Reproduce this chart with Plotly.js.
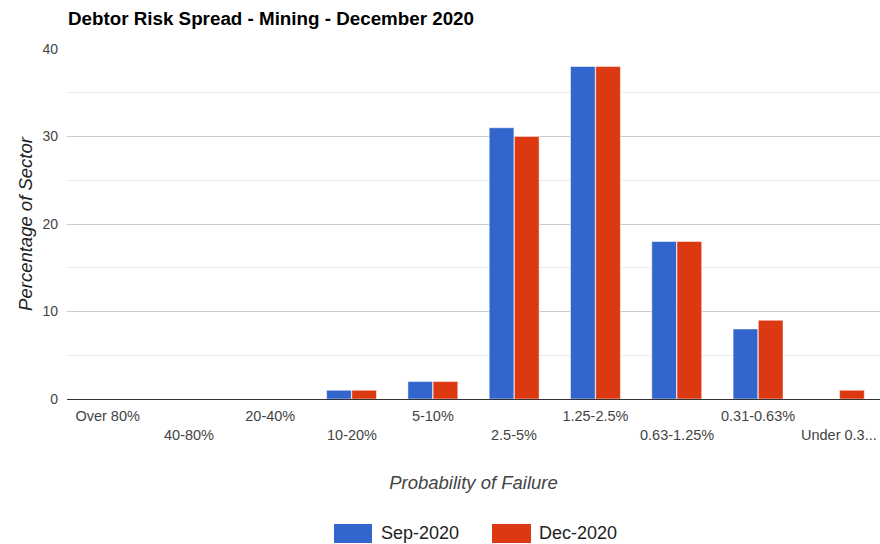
<!DOCTYPE html>
<html>
<head>
<meta charset="utf-8">
<script src="https://cdn.plot.ly/plotly-3.0.1.min.js"></script>
<style>html,body{margin:0;padding:0;background:#fff;}#chart{width:880px;height:544px;}</style>
</head>
<body>
<div id="chart"></div>
<script>
const categories = ["Over 80%", "40-80%", "20-40%", "10-20%", "5-10%", "2.5-5%", "1.25-2.5%", "0.63-1.25%", "0.31-0.63%", "Under 0.3..."];
const sepValues = [0, 0, 0, 1, 2, 31, 38, 18, 8, 0];
const decValues = [0, 0, 0, 1, 2, 30, 38, 18, 9, 1];
const seriesNames = ["Sep-2020", "Dec-2020"];
const seriesColors = ["#3366cc", "#dc3912"];
const yTicks = [0, 10, 20, 30, 40];

const evenCats = categories.filter((c, i) => i % 2 === 0);
const oddCats = categories.filter((c, i) => i % 2 === 1);

const font = "Arial, 'Liberation Sans', sans-serif";

// plot area in pixels (for the hand-made legend only)
const L = 67, R = 880, T = 49, B = 399;
const px = x => (x - L) / (R - L);
const py = y => (B - y) / (B - T);

const traces = [
  {type: "bar", name: seriesNames[0], x: categories, y: sepValues,
   marker: {color: seriesColors[0], line: {color: "#ffffff", width: 0.5}}},
  {type: "bar", name: seriesNames[1], x: categories, y: decValues,
   marker: {color: seriesColors[1], line: {color: "#ffffff", width: 0.5}}}
];

const annotations = oddCats.map(c => ({
  x: c, xref: "x", y: py(435), yref: "paper", yanchor: "middle", xanchor: "center",
  text: c, showarrow: false, font: {family: font, size: 14.5, color: "#444"}
}));

// legend (Google-style wide swatches)
const legendSw = [[334, 372], [492, 531]];
const legendTx = [379, 537];
const shapes = [];
seriesNames.forEach((n, i) => {
  shapes.push({type: "rect", xref: "paper", yref: "paper",
    x0: px(legendSw[i][0]), x1: px(legendSw[i][1]), y0: py(543), y1: py(524),
    fillcolor: seriesColors[i], line: {width: 0}});
  annotations.push({x: px(legendTx[i]), xref: "paper", y: py(533), yref: "paper",
    xanchor: "left", yanchor: "middle", text: n, showarrow: false,
    font: {family: font, size: 18, color: "#222"}});
});

const layout = {
  width: 880, height: 544,
  margin: {l: L, r: 880 - R, t: T, b: 544 - B},
  paper_bgcolor: "#fff", plot_bgcolor: "#fff",
  barmode: "group", bargap: 0.38, bargroupgap: 0.02,
  title: {text: "<b>Debtor Risk Spread - Mining - December 2020</b>", x: 68/880, xanchor: "left", xref: "container",
          y: 1 - 18/544, yanchor: "middle", yref: "container", font: {family: font, size: 18.8, color: "#000"}},
  xaxis: {
    type: "category", tickvals: evenCats, ticktext: evenCats,
    tickfont: {family: font, size: 14.5, color: "#444"}, ticks: "", showgrid: false,
    showline: false, zeroline: false, ticklabelstandoff: 6,
    title: {text: "<i>Probability of Failure</i>", font: {family: font, size: 18.5, color: "#444"}, standoff: 53}
  },
  yaxis: {
    range: [0, 40], tickvals: yTicks, ticks: "",
    tickfont: {family: font, size: 14, color: "#444"},
    gridcolor: "#cccccc", gridwidth: 1,
    zeroline: true, zerolinecolor: "#333333", zerolinewidth: 1,
    minor: {dtick: 5, showgrid: true, gridcolor: "#ebebeb", gridwidth: 1},
    ticklabelstandoff: 8, showline: false,
    title: {text: "<i>Percentage of Sector</i>", font: {family: font, size: 18.5, color: "#222"}, standoff: 4}
  },
  showlegend: false,
  shapes: shapes,
  annotations: annotations
};

Plotly.newPlot("chart", traces, layout, {displayModeBar: false, staticPlot: true});
</script>
</body>
</html>
